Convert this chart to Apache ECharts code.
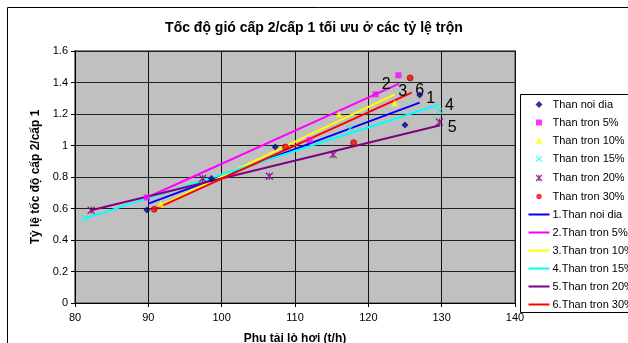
<!DOCTYPE html>
<html><head><meta charset="utf-8">
<script src="https://cdn.jsdelivr.net/npm/echarts@6/dist/echarts.min.js"></script>
<style>html,body{margin:0;padding:0;background:#fff}#c{width:628px;height:343px}</style>
</head><body><div id="c"></div>
<script>
const titleText = 'Tốc độ gió cấp 2/cấp 1 tối ưu ở các tỷ lệ trộn';
const xTitle = 'Phụ tải lò hơi (t/h)';
const yTitle = 'Tỷ lệ tốc độ cấp 2/cấp 1';

const scatterNames = ['Than noi dia','Than tron 5%','Than tron 10%','Than tron 15%','Than tron 20%','Than tron 30%'];
const lineNames = ['1.Than noi dia','2.Than tron 5%','3.Than tron 10%','4.Than tron 15%','5.Than tron 20%','6.Than tron 30%'];
const lineTags = ['1','2','3','4','5','6'];

// measured points [load t/h, ratio]
const ptsNoiDia = [[89.8,0.59],[98.6,0.79],[107.3,0.99],[125.0,1.13],[127.0,1.32]];
const ptsTron5  = [[89.8,0.67],[112.0,1.035],[121.0,1.325],[124.1,1.446]];
const ptsTron10 = [[91.7,0.63],[116.0,1.20],[123.6,1.27]];
const ptsTron15 = [[81.3,0.536],[117.5,1.107],[129.7,1.22]];
const ptsTron20 = [[82.2,0.589],[97.4,0.79],[106.5,0.805],[115.2,0.942],[129.7,1.149]];
const ptsTron30 = [[90.8,0.595],[108.7,0.99],[118.0,1.018],[125.7,1.429]];

// trend lines [start, end]
const lnNoiDia = [[90.0,0.631],[127.0,1.272]];
const lnTron5  = [[89.6,0.665],[124.2,1.393]];
const lnTron10 = [[91.7,0.62],[123.6,1.325]];
const lnTron15 = [[81.3,0.536],[129.7,1.26]];
const lnTron20 = [[82.2,0.589],[129.8,1.128]];
const lnTron30 = [[90.8,0.595],[125.9,1.336]];

const xTicks = {min:80, max:140, interval:10};
const yTicks = {min:0, max:1.6, interval:0.2};

const scatterData = [ptsNoiDia, ptsTron5, ptsTron10, ptsTron15, ptsTron20, ptsTron30];
const lineData = [lnNoiDia, lnTron5, lnTron10, lnTron15, lnTron20, lnTron30];

const scatterColors = ['#000080','#FF00FF','#FFFF00','#00FFFF','#800080','#FF0000'];
const lineColors = ['#0000FF','#FF00FF','#FFFF00','#00FFFF','#800080','#FF0000'];
const symbols = ['diamond','rect','triangle','path://M0,0L10,10M10,0L0,10','path://M0,0L10,10M10,0L0,10M5,0L5,10','circle'];
const symbolSizes = [7,6,7,6,7,6];
const tagOffsets = [[11,-4],[-13,1],[8,-3],[10,1],[12,2],[8,-2]];
const FONT = 'Liberation Sans, Arial, sans-serif';

// legend icons: 21x7 box with a small centred marker (leading moves set the box extent)
const BOX = 'M0,0M21,7';
const legendIcons = [
  'path://'+BOX+'M10.5,0L14,3.5L10.5,7L7,3.5Z',
  'path://'+BOX+'M7.5,0.5L13.5,0.5L13.5,6.5L7.5,6.5Z',
  'path://'+BOX+'M10.5,0.2L14,6.8L7,6.8Z',
  'path://'+BOX+'M7.8,0.8L13.2,6.2M13.2,0.8L7.8,6.2',
  'path://'+BOX+'M7.5,0.5L13.5,6.5M13.5,0.5L7.5,6.5M10.5,0.3L10.5,6.7',
  'path://'+BOX+'M7.8,3.5A2.7,2.7 0 1 1 13.2,3.5A2.7,2.7 0 1 1 7.8,3.5Z'
];

const chart = echarts.init(document.getElementById('c'), null, {renderer:'canvas'});
const series = [];
scatterNames.forEach((n,i)=>{
  const stroked = i===3 || i===4;
  series.push({
    name:n, type:'scatter', data:scatterData[i], symbol:symbols[i], symbolSize:symbolSizes[i],
    itemStyle: stroked ? {color:'none', borderColor:scatterColors[i], borderWidth:1.3}
                       : {color:scatterColors[i], borderColor: i===5 ? '#990000' : scatterColors[i], borderWidth: i===5?0.8:0},
    z:3
  });
});
lineNames.forEach((n,i)=>{
  const d = lineData[i].map((p,j)=> j===lineData[i].length-1 ? {
      value:p, symbol:'circle', symbolSize:0.01,
      label:{show:true, formatter:lineTags[i], position:'inside', offset:tagOffsets[i],
             fontSize:16, color:'#000', fontFamily:FONT}
    } : {value:p});
  series.push({
    name:n, type:'line', data:d, symbol:'none', showSymbol:true,
    lineStyle:{color:lineColors[i], width:2}, itemStyle:{color:lineColors[i]},
    z:2, animation:false
  });
});

const legendData = scatterNames.concat(lineNames).map((n,i)=>{
  if(i<6){
    const stroked = i===3||i===4;
    return {name:n, icon:legendIcons[i], itemStyle: stroked?{color:'none',borderColor:scatterColors[i],borderWidth:1.2}:{color:scatterColors[i],borderWidth:0}};
  }
  return {name:n, icon:'path://M0,0L21,0L21,2L0,2Z', itemStyle:{color:lineColors[i-6], borderWidth:0}};
});

chart.setOption({
  animation:false,
  backgroundColor:'#fff',
  title:{text:titleText, left:'center', top:21, padding:0, textStyle:{fontFamily:FONT, fontSize:14, fontWeight:'bold', color:'#000'}},
  grid:{left:75, right:113, top:51, bottom:40, outerBoundsMode:'none', containLabel:false, show:true, backgroundColor:'#C0C0C0', borderColor:'#808080', borderWidth:2},
  legend:{
    data:legendData, orient:'vertical', left:526, top:99, itemWidth:21, itemHeight:7, itemGap:7,
    padding:0, selectedMode:false,
    textStyle:{fontFamily:FONT, fontSize:11, color:'#000', padding:[0,0,0,-2]}
  },
  xAxis:{
    type:'value', min:xTicks.min, max:xTicks.max, interval:xTicks.interval,
    name:xTitle, nameLocation:'middle', nameGap:30,
    nameTextStyle:{fontFamily:FONT, fontSize:12, fontWeight:'bold', color:'#000'},
    axisLine:{show:true, onZero:false, lineStyle:{color:'#000', width:1}},
    axisTick:{show:true, length:4, lineStyle:{color:'#000'}},
    axisLabel:{margin:9, fontFamily:FONT, fontSize:11, color:'#000'},
    splitLine:{show:true, lineStyle:{color:'#111', width:1}}
  },
  yAxis:{
    type:'value', min:yTicks.min, max:yTicks.max, interval:yTicks.interval,
    name:yTitle, nameLocation:'middle', nameGap:24, nameRotate:90,
    nameTextStyle:{fontFamily:FONT, fontSize:12, fontWeight:'bold', color:'#000'},
    axisLine:{show:true, onZero:false, lineStyle:{color:'#000', width:1}},
    axisTick:{show:true, length:4, lineStyle:{color:'#000'}},
    axisLabel:{margin:7, fontFamily:FONT, fontSize:11, color:'#000', formatter:v=>String(+v.toFixed(1))},
    splitLine:{show:true, lineStyle:{color:'#222', width:1}}
  },
  graphic:[
    {type:'rect', shape:{x:7.5, y:7.5, width:800, height:500}, style:{fill:'none', stroke:'#000', lineWidth:1}, silent:true, z:-1},
    {type:'rect', shape:{x:520.5, y:94.5, width:200, height:218}, style:{fill:'#fff', stroke:'#000', lineWidth:1}, silent:true, z:-1}
  ],
  series:series
});
</script></body></html>
